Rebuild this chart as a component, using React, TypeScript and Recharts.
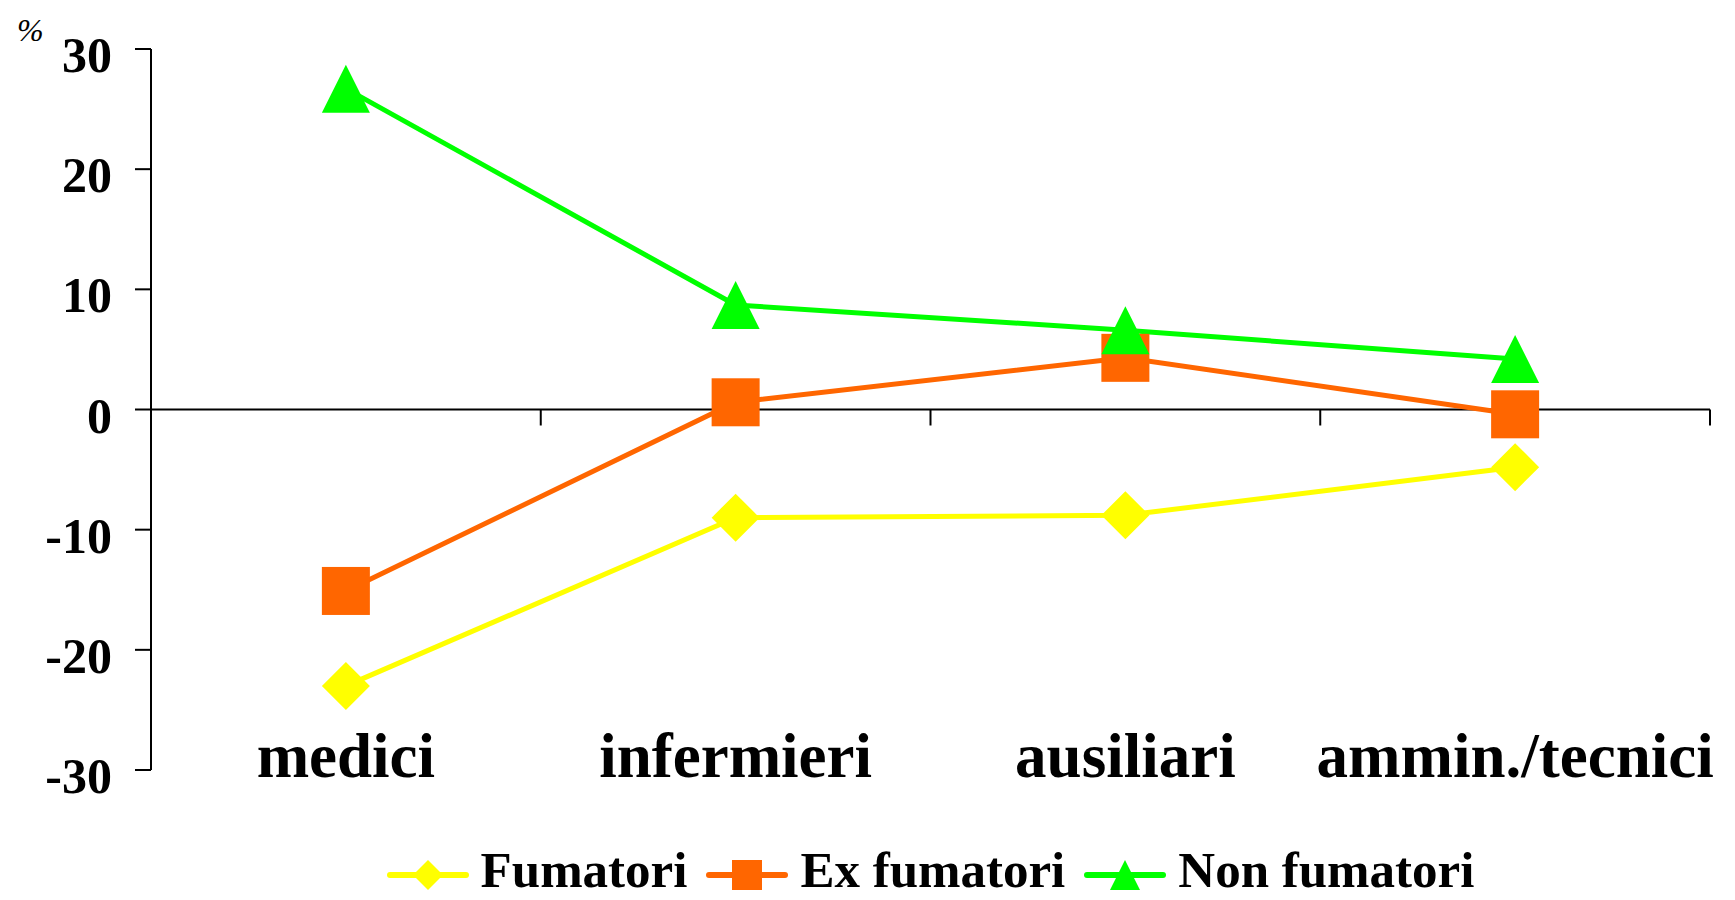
import React from "react";
import {
  LineChart,
  Line,
  XAxis,
  YAxis,
  ReferenceLine,
  ReferenceDot,
  Legend,
} from "recharts";

const categories = ["medici", "infermieri", "ausiliari", "ammin./tecnici"];
const fumatori = [-23.0, -9.0, -8.8, -4.8];
const exFumatori = [-15.1, 0.6, 4.3, -0.4];
const nonFumatori = [26.7, 8.7, 6.6, 4.2];
const yTicks = [-30, -20, -10, 0, 10, 20, 30];
// category boundaries, where the small ticks sit on the zero line
const boundaries = [0.5, 1.5, 2.5, 3.5];

const series = [
  { key: "fum", name: "Fumatori", color: "#FFFF00", shape: "diamond" },
  { key: "ex", name: "Ex fumatori", color: "#FF6600", shape: "square" },
  { key: "non", name: "Non fumatori", color: "#00FF00", shape: "triangle" },
];

const data = categories.map((c, i) => ({
  idx: i,
  name: c,
  fum: fumatori[i],
  ex: exFumatori[i],
  non: nonFumatori[i],
}));

const FONT = "'Liberation Serif', 'Times New Roman', serif";

function marker(shape: string, cx: number, cy: number, s: number, color: string, key?: any) {
  const h = s / 2;
  if (shape === "diamond") {
    return (
      <polygon
        key={key}
        points={`${cx},${cy - h} ${cx + h},${cy} ${cx},${cy + h} ${cx - h},${cy}`}
        fill={color}
      />
    );
  }
  if (shape === "square") {
    return <rect key={key} x={cx - h} y={cy - h} width={s} height={s} fill={color} />;
  }
  return (
    <polygon
      key={key}
      points={`${cx},${cy - h} ${cx + h},${cy + h} ${cx - h},${cy + h}`}
      fill={color}
    />
  );
}

const makeDot = (shape: string, color: string) => (props: any) => {
  const { cx, cy, index } = props;
  if (cx == null || cy == null) return <g key={index} />;
  return marker(shape, cx, cy, 48, color, index);
};

const YTick = (props: any) => {
  const { x, y, payload } = props;
  return (
    <text
      x={x}
      y={y}
      dy={23}
      textAnchor="end"
      fontFamily={FONT}
      fontWeight="bold"
      fontSize={50}
      fill="#000"
    >
      {payload.value}
    </text>
  );
};

const XTick = (props: any) => {
  const { x, y, payload } = props;
  return (
    <text
      x={x}
      y={y}
      dy={7}
      textAnchor="middle"
      fontFamily={FONT}
      fontWeight="bold"
      fontSize={63}
      fill="#000"
    >
      {categories[payload.value]}
    </text>
  );
};

const LegendContent = () => (
  <div
    style={{
      display: "flex",
      justifyContent: "center",
      alignItems: "center",
      height: 42,
    }}
  >
    {series.map((s, i) => (
      <div
        key={s.key}
        style={{ display: "flex", alignItems: "center", marginRight: i < series.length - 1 ? 19 : 0 }}
      >
        <svg width={82} height={42} style={{ marginRight: 12 }}>
          <line x1={3} y1={26} x2={79} y2={26} stroke={s.color} strokeWidth={6} strokeLinecap="round" />
          {marker(s.shape, 41, 26, 30, s.color)}
        </svg>
        <span
          style={{
            fontFamily: FONT,
            fontWeight: "bold",
            fontSize: 51,
            lineHeight: "42px",
            color: "#000",
          }}
        >
          {s.name}
        </span>
      </div>
    ))}
  </div>
);

export default function App() {
  return (
    <div style={{ position: "absolute", left: 0, top: 0, width: 1735, height: 900, background: "#fff" }}>
      <div
        style={{
          position: "absolute",
          left: 17,
          top: 14,
          fontFamily: FONT,
          fontStyle: "italic",
          fontSize: 32,
          lineHeight: "32px",
          zIndex: 2,
        }}
      >
        %
      </div>
      <LineChart
        width={1735}
        height={900}
        data={data}
        margin={{ top: 49, right: 25, left: 0, bottom: 0 }}
      >
        <XAxis
          dataKey="idx"
          type="number"
          domain={[-0.5, 3.5]}
          ticks={[0, 1, 2, 3]}
          axisLine={false}
          tickLine={false}
          tickSize={0}
          tickMargin={0}
          height={130}
          tick={<XTick />}
          interval={0}
        />
        <YAxis
          domain={[-30, 30]}
          ticks={yTicks}
          width={151}
          axisLine={{ stroke: "#000", strokeWidth: 2 }}
          tickLine={{ stroke: "#000", strokeWidth: 2 }}
          tickSize={16}
          tickMargin={23}
          tick={<YTick />}
          interval={0}
        />
        <ReferenceLine y={0} stroke="#000" strokeWidth={2} />
        {boundaries.map((b) => (
          <ReferenceDot
            key={b}
            x={b}
            y={0}
            ifOverflow="visible"
            shape={(p: any) => (
              <line x1={p.cx} y1={p.cy} x2={p.cx} y2={p.cy + 16} stroke="#000" strokeWidth={2} />
            )}
          />
        ))}
        {series.map((s) => (
          <Line
            key={s.key}
            type="linear"
            dataKey={s.key}
            name={s.name}
            stroke={s.color}
            strokeWidth={5}
            dot={makeDot(s.shape, s.color)}
            activeDot={false}
            isAnimationActive={false}
          />
        ))}
        <Legend
          verticalAlign="middle"
          align="center"
          layout="horizontal"
          content={<LegendContent />}
          wrapperStyle={{ top: 849, left: 151, width: 1559 }}
        />
      </LineChart>
    </div>
  );
}
